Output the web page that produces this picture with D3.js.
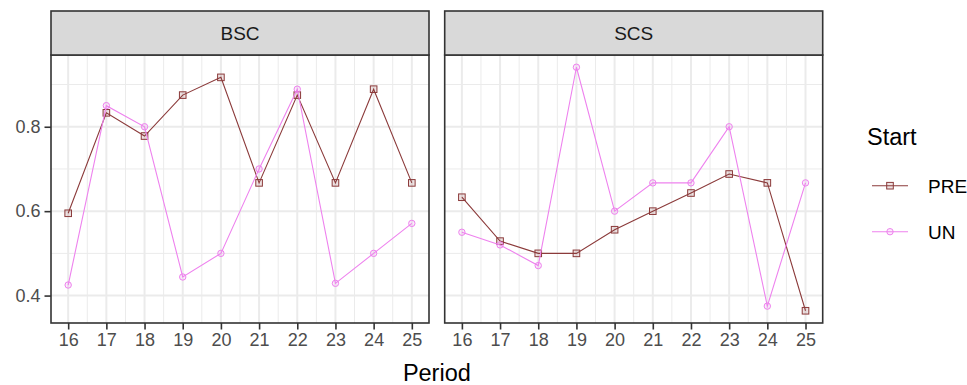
<!DOCTYPE html>
<html>
<head>
<meta charset="utf-8">
<script src="https://cdn.jsdelivr.net/npm/d3@7"></script>
<style>
  body { margin: 0; background: #fff; }
  svg { display: block; font-family: "Liberation Sans", Arial, Helvetica, sans-serif; }
</style>
</head>
<body>
<svg id="chart" width="967" height="385"></svg>
<script>
const periods = [16, 17, 18, 19, 20, 21, 22, 23, 24, 25];
const facets = ["BSC", "SCS"];
const starts = ["PRE", "UN"];
const bscPRE = [0.595, 0.833, 0.778, 0.875, 0.917, 0.667, 0.875, 0.667, 0.889, 0.667];
const bscUN  = [0.425, 0.850, 0.800, 0.444, 0.500, 0.700, 0.889, 0.429, 0.500, 0.571];
const scsPRE = [0.633, 0.529, 0.500, 0.500, 0.556, 0.600, 0.643, 0.688, 0.667, 0.364];
const scsUN  = [0.550, 0.520, 0.471, 0.941, 0.600, 0.667, 0.667, 0.800, 0.375, 0.667];
const yTicks = [0.4, 0.6, 0.8];
const yMinor = [0.5, 0.7, 0.9];

const seriesData = {
  BSC: { PRE: bscPRE, UN: bscUN },
  SCS: { PRE: scsPRE, UN: scsUN }
};
const colors = { PRE: "#8B3A3A", UN: "#EE82EE" };

const svg = d3.select("#chart");
const panelW = 378, panelTop = 55, panelBottom = 323, stripTop = 11;
const panelLefts = [51, 444.7];

const y = d3.scaleLinear().domain([0.335, 0.970]).range([panelBottom, panelTop]);

facets.forEach((f, i) => {
  const x0 = panelLefts[i];
  const x = d3.scaleLinear().domain([15.55, 25.45]).range([x0, x0 + panelW]);
  const g = svg.append("g");

  g.append("rect").attr("x", x0).attr("y", panelTop).attr("width", panelW)
    .attr("height", panelBottom - panelTop).attr("fill", "#fff");

  const xMinor = periods.slice(0, -1).map(p => p + 0.5);
  g.selectAll(".xminor").data(xMinor).enter().append("line")
    .attr("x1", d => x(d)).attr("x2", d => x(d)).attr("y1", panelTop).attr("y2", panelBottom)
    .attr("stroke", "#EBEBEB").attr("stroke-width", 1);
  g.selectAll(".yminor").data(yMinor).enter().append("line")
    .attr("x1", x0).attr("x2", x0 + panelW).attr("y1", d => y(d)).attr("y2", d => y(d))
    .attr("stroke", "#EBEBEB").attr("stroke-width", 1);
  g.selectAll(".xmajor").data(periods).enter().append("line")
    .attr("x1", d => x(d)).attr("x2", d => x(d)).attr("y1", panelTop).attr("y2", panelBottom)
    .attr("stroke", "#EBEBEB").attr("stroke-width", 2);
  g.selectAll(".ymajor").data(yTicks).enter().append("line")
    .attr("x1", x0).attr("x2", x0 + panelW).attr("y1", d => y(d)).attr("y2", d => y(d))
    .attr("stroke", "#EBEBEB").attr("stroke-width", 2);

  starts.forEach(s => {
    const vals = seriesData[f][s];
    const pts = periods.map((p, k) => [p, vals[k]]);
    const line = d3.line().x(d => x(d[0])).y(d => y(d[1]));
    g.append("path").datum(pts).attr("d", line).attr("fill", "none")
      .attr("stroke", colors[s]).attr("stroke-width", 1.1);
    if (s === "PRE") {
      g.selectAll(".pt" + s).data(pts).enter().append("rect")
        .attr("x", d => x(d[0]) - 3.3).attr("y", d => y(d[1]) - 3.3)
        .attr("width", 6.6).attr("height", 6.6)
        .attr("fill", colors[s]).attr("fill-opacity", 0.15)
        .attr("stroke", colors[s]).attr("stroke-width", 1);
    } else {
      g.selectAll(".pt" + s).data(pts).enter().append("circle")
        .attr("cx", d => x(d[0])).attr("cy", d => y(d[1])).attr("r", 3.2)
        .attr("fill", colors[s]).attr("fill-opacity", 0.15)
        .attr("stroke", colors[s]).attr("stroke-width", 1);
    }
  });

  g.append("rect").attr("x", x0).attr("y", panelTop).attr("width", panelW)
    .attr("height", panelBottom - panelTop).attr("fill", "none")
    .attr("stroke", "#333333").attr("stroke-width", 1.6);

  g.append("rect").attr("x", x0).attr("y", stripTop).attr("width", panelW)
    .attr("height", panelTop - stripTop).attr("fill", "#D9D9D9")
    .attr("stroke", "#333333").attr("stroke-width", 1.6);
  g.append("text").attr("x", x0 + panelW / 2).attr("y", (stripTop + panelTop) / 2)
    .attr("dy", "0.36em").attr("text-anchor", "middle").attr("font-size", 19)
    .attr("fill", "#1A1A1A").text(f);

  const xAxis = d3.axisBottom(x).tickValues(periods).tickFormat(d3.format("d"))
    .tickSize(6.5).tickPadding(4);
  const ax = g.append("g").attr("transform", `translate(0,${panelBottom})`).call(xAxis);
  ax.select(".domain").remove();
  ax.selectAll(".tick line").attr("stroke", "#333333").attr("stroke-width", 1.6);
  ax.selectAll(".tick text").attr("fill", "#4D4D4D").attr("font-size", 18)
    .attr("font-family", "Liberation Sans, Arial, sans-serif");

  if (i === 0) {
    const yAxis = d3.axisLeft(y).tickValues(yTicks).tickFormat(d3.format(".1f"))
      .tickSize(6.5).tickPadding(4);
    const ay = g.append("g").attr("transform", `translate(${x0},0)`).call(yAxis);
    ay.select(".domain").remove();
    ay.selectAll(".tick line").attr("stroke", "#333333").attr("stroke-width", 1.6);
    ay.selectAll(".tick text").attr("fill", "#4D4D4D").attr("font-size", 18)
      .attr("font-family", "Liberation Sans, Arial, sans-serif");
  }
});

svg.append("text").attr("x", (panelLefts[0] + panelLefts[1] + panelW) / 2).attr("y", 381)
  .attr("text-anchor", "middle").attr("font-size", 23.5).attr("fill", "#000").text("Period");

const lg = svg.append("g");
lg.append("text").attr("x", 867).attr("y", 145).attr("font-size", 23.5).attr("fill", "#000").text("Start");
const legY = { PRE: 185.7, UN: 231.7 };
starts.forEach(s => {
  const yy = legY[s];
  lg.append("line").attr("x1", 872).attr("x2", 908).attr("y1", yy).attr("y2", yy)
    .attr("stroke", colors[s]).attr("stroke-width", 1.1);
  if (s === "PRE") {
    lg.append("rect").attr("x", 890 - 3.3).attr("y", yy - 3.3).attr("width", 6.6).attr("height", 6.6)
      .attr("fill", colors[s]).attr("fill-opacity", 0.15).attr("stroke", colors[s]).attr("stroke-width", 1);
  } else {
    lg.append("circle").attr("cx", 890).attr("cy", yy).attr("r", 3.2)
      .attr("fill", colors[s]).attr("fill-opacity", 0.15).attr("stroke", colors[s]).attr("stroke-width", 1);
  }
  lg.append("text").attr("x", 928).attr("y", yy).attr("dy", "0.36em").attr("font-size", 19)
    .attr("fill", "#000").text(s);
});
</script>
</body>
</html>
